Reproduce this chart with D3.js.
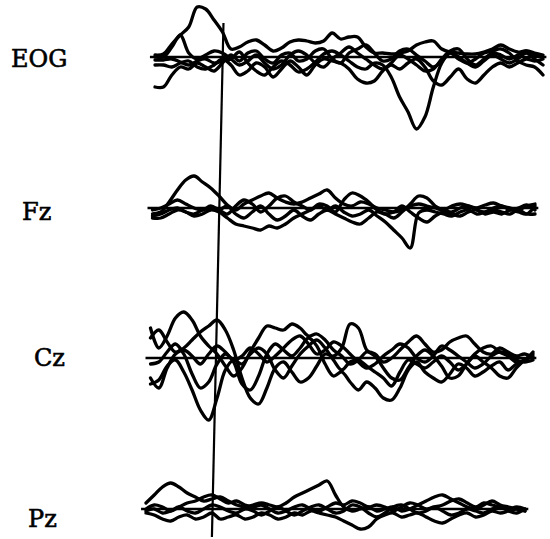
<!DOCTYPE html>
<html>
<head>
<meta charset="utf-8">
<script src="https://cdn.jsdelivr.net/npm/d3@7"></script>
<style>
  html, body { margin: 0; padding: 0; background: #fff; }
  #chart { width: 550px; height: 539px; }
</style>
</head>
<body>
<div id="chart"></div>
<script>
// time axis, ms relative to stimulus onset (step 25 ms)
const times = d3.range(-200, 951, 25);

const channels = ['EOG', 'Fz', 'Cz', 'Pz'];

// averaged waveforms per channel, one row per condition (amplitude, up = positive)
const eogTraces = [
  [2, 3, 13, 22, 30, 50, 48, 37, 25, 8, 10, 15, 17, 12, 6, 9, 15, 17, 16, 14, 16, 24, 18, 20, 20, 10, 4, 4, 3, 4, 6, 12, 15, 16, 8, 5, 4, 3, 3, 5, 8, 12, 8, 5, 6, 2, 0],
  [-3, -3, -2, -5, -8, -4, -2, -6, -4, -2, 5, -6, -14, -18, -10, -4, -8, -15, -12, -5, 3, 6, 2, -4, -10, -12, -6, -8, -20, -40, -55, -72, -60, -30, -6, 4, 0, -6, -10, -4, 2, -2, -6, -2, 4, -2, -8],
  [-8, -8, -10, -6, -4, -10, -12, -8, -2, -8, -18, -14, -6, -10, -20, -12, -4, -10, -18, -8, -2, -4, -6, -12, -22, -26, -24, -14, -8, -12, -6, -2, -10, -24, -28, -20, -12, -22, -26, -18, -10, -6, -10, -6, -2, -4, -2],
  [-30, -30, -18, -10, -12, -6, -10, -14, -6, 2, -4, 4, 6, -2, -6, 2, 4, -4, -2, 6, 8, -2, -6, 4, 8, 12, 4, -4, -2, 6, 8, 2, -4, -10, -4, 4, -2, -6, -2, 4, 6, 8, 4, -4, -8, -10, -18],
  [0, 0, 10, 22, 4, -2, 2, 6, 4, -2, -8, -4, 2, -6, -12, -8, 2, 6, 2, -6, -10, -2, 4, 10, 4, -2, -8, -12, -6, 2, -2, -8, -14, -12, -2, 6, 8, -2, -8, -2, 4, 2, -2, 2, 6, 4, 2]
];
const fzTraces = [
  [-6, -4, 6, 18, 28, 32, 26, 20, 12, 3, -2, 4, 8, 12, 15, 10, 6, 4, 6, 10, 14, 18, 10, 4, 2, 6, 4, 0, -2, -4, -2, 2, 4, 2, 0, -2, 2, 4, 2, 0, 3, 5, 2, 0, -2, 2, 4],
  [-10, -10, -6, -2, -4, -8, -6, -2, -4, -10, -16, -18, -20, -22, -18, -20, -16, -10, -6, -2, 2, -2, 2, -4, -8, -6, -2, -8, -14, -22, -30, -40, -5, -2, -4, -6, -8, -4, -2, -6, -4, -2, -4, -6, -2, -6, -6],
  [-2, 0, 4, 8, 4, 0, -2, 2, -2, -6, 2, 8, 4, -4, 2, 10, 12, 6, 2, -2, 4, 2, -4, 8, 15, 12, 6, -2, -6, -10, -4, 4, 12, 10, 2, -2, -4, 0, 2, -2, -4, 0, 2, -2, 0, 3, -2],
  [-8, -6, -2, 0, -4, -6, -2, 0, -2, 2, -6, -10, -4, 2, -6, -12, -8, -2, -8, -12, -6, -2, -6, -10, -14, -16, -10, -4, -6, -4, 2, -4, -10, -14, -8, -4, -6, -8, -4, -2, -6, -4, -6, -2, -4, -6, 2]
];
const czTraces = [
  [30, 10, 22, 40, 46, 38, 22, 12, 4, -8, -18, -10, 6, 20, 32, 30, 28, 34, 30, 22, 24, 18, 8, 2, -6, -2, 6, 4, -4, 0, 8, 16, 22, 14, 6, 8, 16, 20, 22, 14, 6, 4, 10, 6, 2, 4, 0],
  [-26, -22, -8, -2, -14, -32, -52, -62, -40, -12, -2, -6, 4, 10, 4, -12, -20, -8, 4, 12, 18, 10, -2, -12, -4, -2, -8, -14, -20, -28, -14, -2, -6, -10, -4, 2, -4, -12, -6, 2, -4, -10, -18, -20, -10, -2, 4],
  [20, 28, 16, 6, 10, 18, 26, 32, 38, 28, 8, -20, -40, -46, -30, -10, -4, -14, -24, -20, -8, 4, 2, 10, 34, 30, 8, 2, -10, -20, -22, -10, 2, 8, 2, -8, -20, -18, -6, 4, 10, 12, 6, 2, -4, -2, 2],
  [-6, -4, 6, 14, 4, -16, -30, -24, -6, 4, -4, -26, -32, -18, 4, 14, 8, 2, 10, 20, 12, -6, -18, -14, -24, -32, -24, -30, -40, -42, -30, -12, -4, -14, -20, -24, -16, -6, -10, -18, -14, -8, -4, -12, -6, -2, 6],
  [-20, -30, -10, 4, 8, 2, -6, 4, 12, 6, -2, 2, 10, 4, -4, 2, 10, 18, 22, 14, 4, 8, 16, 12, 4, -4, -10, -6, 2, 8, 14, 10, 0, -4, 2, 12, 8, 2, -4, -10, -6, 2, 6, 4, -2, -4, -2]
];
const pzTraces = [
  [6, 14, 22, 26, 22, 16, 12, 8, 10, 12, 8, 4, 2, 4, 6, 4, 2, 6, 12, 16, 20, 24, 28, 14, 2, -2, 0, 2, -2, 0, 2, -2, 0, 4, 8, 12, 14, 10, 6, 2, 0, 4, 8, 4, 2, 0, -2],
  [-4, -6, -10, -12, -8, -6, -10, -8, -4, -10, -8, -6, -10, -8, -4, -6, -10, -8, -4, -6, -2, -4, -6, -8, -12, -16, -20, -18, -10, -6, -4, -8, -6, -4, -8, -12, -14, -10, -6, -4, -8, -6, -2, -4, -2, 0, -2],
  [0, 4, 2, -2, 2, 6, 8, 12, 14, 10, 6, 8, 4, 2, 4, 0, -4, -2, 2, 4, 0, -2, 2, 6, 4, 8, 6, 2, 4, 2, -2, 2, 6, 4, 0, 2, 4, 8, 10, 6, 2, 6, 4, 2, 0, 2, 0],
  [-2, 0, -4, -2, 2, -2, -4, 0, 4, 2, -2, -4, 0, -2, -6, -2, 2, -2, -6, -2, 2, 4, 0, -4, -2, 4, 2, -4, -8, -4, 2, 4, 0, -4, -2, 2, -2, -6, -4, 0, -2, -4, 0, 2, -2, -4, 0]
];
const traces = [eogTraces, fzTraces, czTraces, pzTraces];

// page layout for each row: label spot, zero line, time extent in pixels
const rows = [
  { lx: 11, ly: 67, base: 57, x0: 155, x1: 543 },
  { lx: 22, ly: 220, base: 208, x0: 152.5, x1: 535 },
  { lx: 34, ly: 366, base: 358, x0: 150.5, x1: 533 },
  { lx: 28, ly: 527, base: 509, x0: 146, x1: 525 }
];

const W = 550, H = 539;
const svg = d3.select('#chart').append('svg')
  .attr('width', W)
  .attr('height', H)
  .style('display', 'block');

const xScales = rows.map(r => d3.scaleLinear().domain([-200, 950]).range([r.x0, r.x1]));

channels.forEach((name, ci) => {
  const r = rows[ci];
  const x = xScales[ci];
  const y = d3.scaleLinear().domain([-60, 60]).range([r.base + 60, r.base - 60]);
  const g = svg.append('g');

  g.append('line')
    .attr('x1', x(-215)).attr('x2', x(960))
    .attr('y1', y(0)).attr('y2', y(0))
    .attr('stroke', '#000')
    .attr('stroke-width', 2.6);

  const line = d3.line()
    .x((d, i) => x(times[i]))
    .y(d => y(d))
    .curve(d3.curveCatmullRom.alpha(0.5));

  g.selectAll('path.trace')
    .data(traces[ci])
    .enter().append('path')
    .attr('class', 'trace')
    .attr('d', line)
    .attr('fill', 'none')
    .attr('stroke', '#000')
    .attr('stroke-width', 3.3)
    .attr('stroke-linejoin', 'round')
    .attr('stroke-linecap', 'round');

  svg.append('text')
    .attr('x', r.lx)
    .attr('y', r.ly)
    .attr('font-family', '"DejaVu Serif", serif')
    .attr('font-size', 24)
    .attr('fill', '#000')
    .attr('stroke', '#000')
    .attr('stroke-width', 0.6)
    .text(name);
});

// stimulus onset marker running through all rows
svg.append('line')
  .attr('x1', xScales[0](0) + 1).attr('y1', 23)
  .attr('x2', xScales[3](0)).attr('y2', 537)
  .attr('stroke', '#000')
  .attr('stroke-width', 2.2);
</script>
</body>
</html>
